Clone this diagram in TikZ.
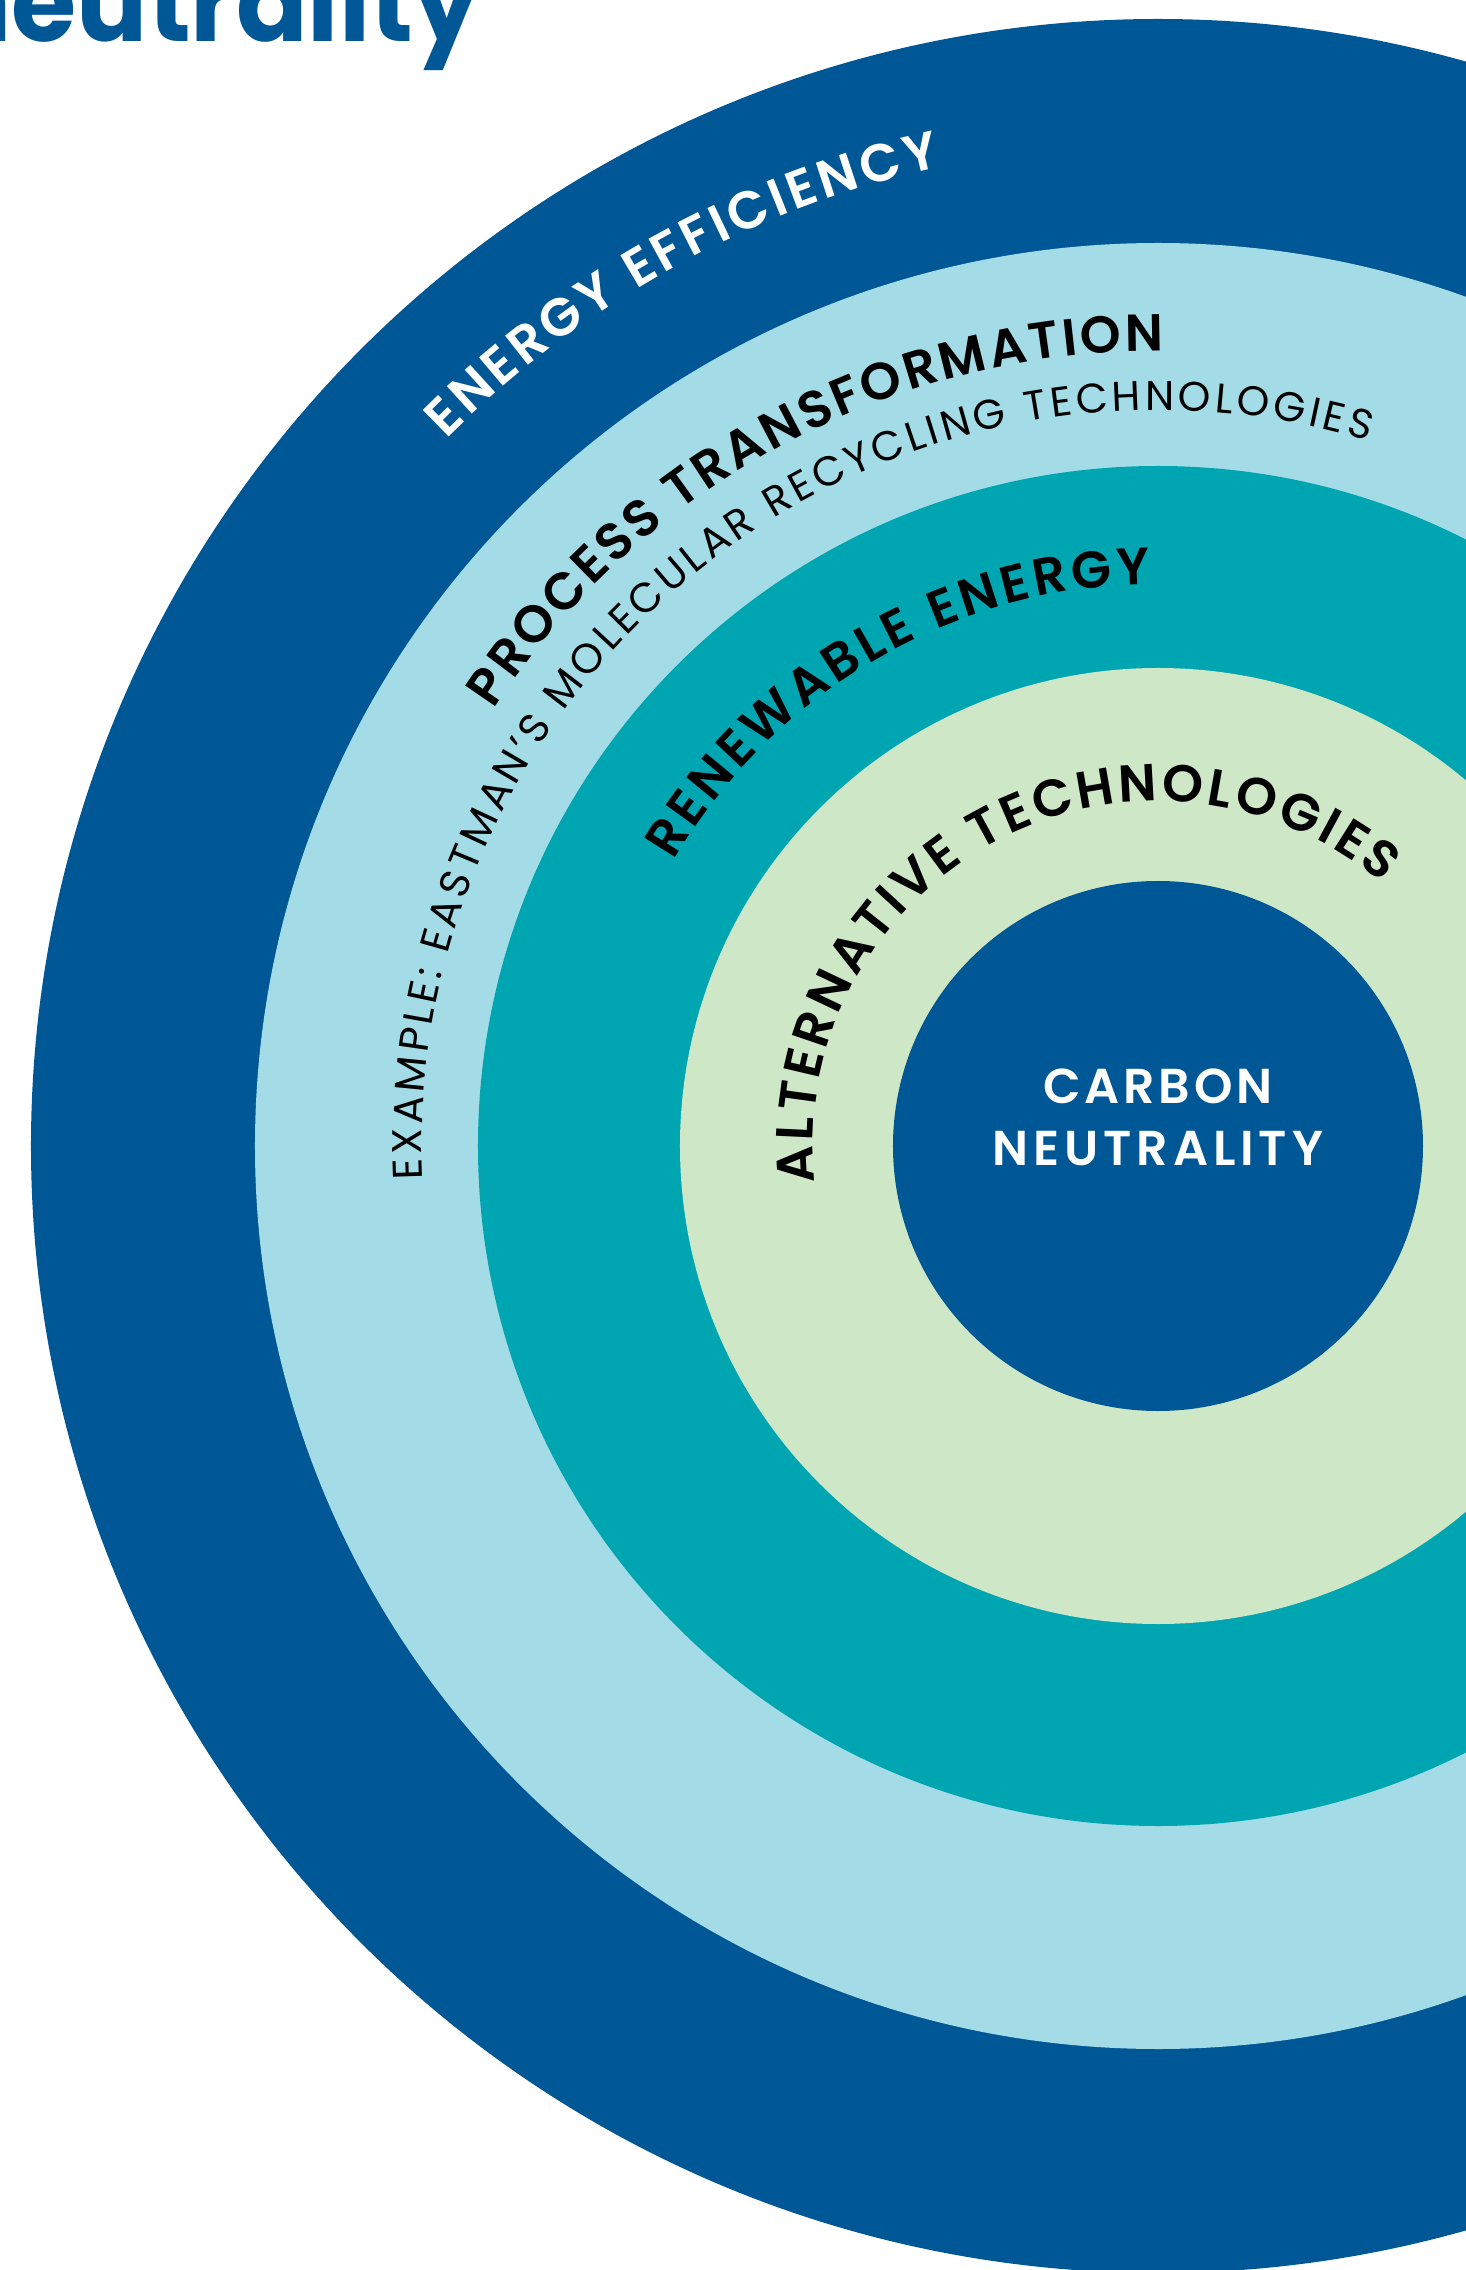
\documentclass[tikz,border=0pt]{standalone}
\usepackage{fontspec}
\usetikzlibrary{decorations.text}
\newfontfamily\psemi{Poppins SemiBold}
\newfontfamily\pbold{Poppins Bold}
\newfontfamily\preg{Poppins}
\definecolor{dblue}{HTML}{005796}
\definecolor{lblue}{HTML}{A3DCE6}
\definecolor{teal}{HTML}{00A5B2}
\definecolor{lgreen}{HTML}{CEE7C6}
\tikzset{
  arctext/.style={decorate, decoration={text along path, text align=fit to path, text color=#1}},
  ring/.style={fill=#1, draw=none}
}
\begin{document}
\begin{tikzpicture}[x=1pt,y=1pt]
\useasboundingbox (-1158,-1124) rectangle (308,1146);
\clip (-1158,-1124) rectangle (308,1146);
\fill[white] (-1158,-1124) rectangle (308,1146);
\fill[ring=dblue] (0,0) circle[radius=1127];
\fill[ring=lblue] (0,0) circle[radius=903];
\fill[ring=teal] (0,0) circle[radius=680];
\fill[ring=lgreen] (0,0) circle[radius=478];
\fill[ring=dblue] (0,0) circle[radius=265];
% curved labels
\path[arctext=white, decoration={text={|\psemi\fontsize{53}{53}\selectfont|ENERGY EFFICIENCY}}]
  (135.2:1003) arc[start angle=135.2, end angle=102.5, radius=1003];
\path[arctext=black, decoration={text={|\psemi\fontsize{52}{52}\selectfont|PROCESS TRANSFORMATION}}]
  (146.7:795) arc[start angle=146.7, end angle=89.6, radius=795];
\path[arctext=black, decoration={text={|\preg\fontsize{41.5}{41.5}\selectfont|EXAMPLE: EASTMAN’S MOLECULAR RECYCLING TECHNOLOGIES}}]
  (182.6:736) arc[start angle=182.6, end angle=73.4, radius=736];
\path[arctext=black, decoration={text={|\psemi\fontsize{52}{52}\selectfont|RENEWABLE ENERGY}}]
  (149.5:562) arc[start angle=149.5, end angle=90.8, radius=562];
\path[arctext=black, decoration={text={|\psemi\fontsize{52}{52}\selectfont|ALTERNATIVE TECHNOLOGIES}}]
  (186:345) arc[start angle=186, end angle=49.5, radius=345];
% centre
\node[text=white, inner sep=0, anchor=base, font=\psemi\fontsize{49}{49}\selectfont] (carbon) at (0,43) {\addfontfeature{LetterSpace=8}CARBON};
\node[text=white, inner sep=0, anchor=base, font=\psemi\fontsize{49}{49}\selectfont] (neutr) at (0,-19) {\addfontfeature{LetterSpace=10}NEUTRALITY};
% title fragment
\node[text=dblue, inner sep=0, anchor=base east, xscale=0.96, font=\pbold\fontsize{110}{110}\selectfont] (title) at (-678,1104) {neutrality};
\end{tikzpicture}
\end{document}
